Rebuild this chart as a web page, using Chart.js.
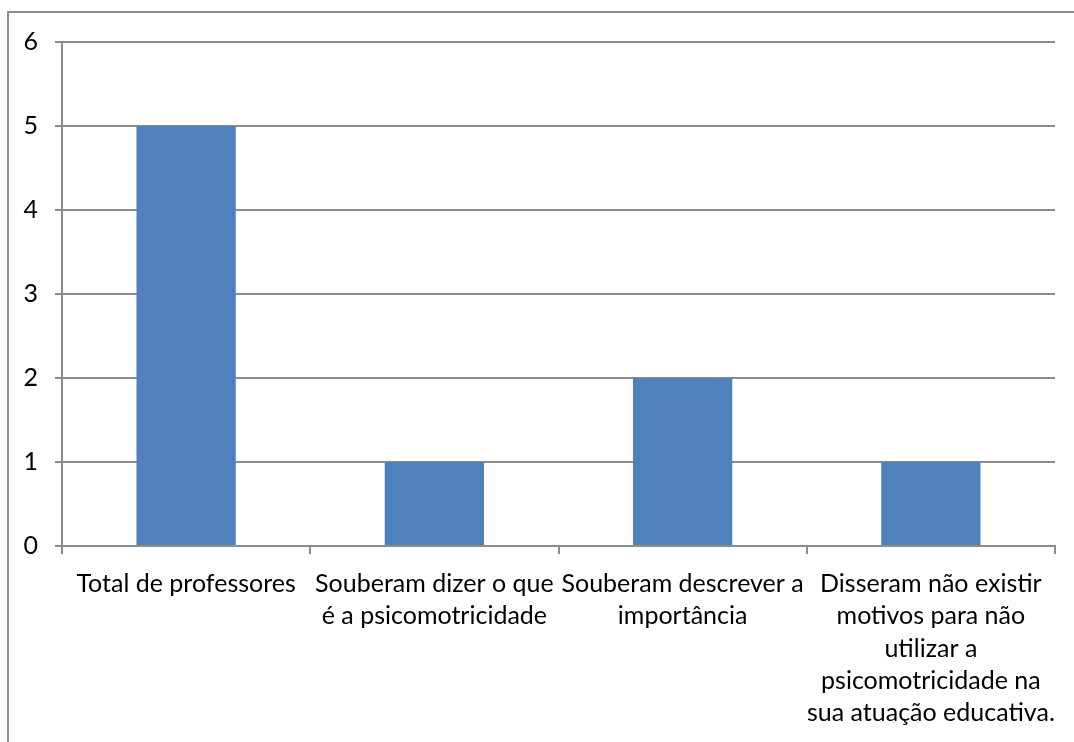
<!DOCTYPE html>
<html>
<head>
<meta charset="utf-8">
<script src="https://cdn.jsdelivr.net/npm/chart.js@4"></script>
<style>
    html, body { margin: 0; padding: 0; background: #fff; }
    #wrap { position: relative; width: 1074px; height: 742px; overflow: hidden; }
    #frame { position: absolute; left: 7px; top: 11px; width: 1100px; height: 800px; border: 2px solid #8c8c8c; box-sizing: border-box; }
    #chart { position: absolute; left: 0; top: 0; }
</style>
</head>
<body>
<div id="wrap">
    <div id="frame"></div>
    <canvas id="chart" width="1074" height="742"></canvas>
</div>
<script>
const categories = [
    ['Total de professores'],
    ['Souberam dizer o que', 'é a psicomotricidade'],
    ['Souberam descrever a', 'importância'],
    ['Disseram não existir', 'motivos para não', 'utilizar a', 'psicomotricidade na', 'sua atuação educativa.']
];
const values = [5, 1, 2, 1];
const yTicks = [0, 1, 2, 3, 4, 5, 6];

const gray = '#8c8c8c';
const font = { family: 'Lato, "Open Sans", sans-serif', size: 25 };

document.addEventListener('DOMContentLoaded', () => {
    new Chart(document.getElementById('chart').getContext('2d'), {
        type: 'bar',
        data: {
            labels: categories,
            datasets: [{
                data: values,
                backgroundColor: '#4f81bd',
                barPercentage: 0.4,
                categoryPercentage: 1
            }]
        },
        options: {
            responsive: false,
            animation: false,
            layout: { padding: { left: 0, top: 42, right: 19, bottom: 0 } },
            plugins: { legend: { display: false }, tooltip: { enabled: false } },
            scales: {
                x: {
                    grid: { display: true, drawOnChartArea: false, color: gray, lineWidth: 2, tickLength: 8, offset: true },
                    border: { display: true, color: gray, width: 2 },
                    ticks: {
                        color: '#000', font: { ...font, lineHeight: 1.29 },
                        maxRotation: 0, autoSkip: false, padding: 14
                    },
                    afterFit: scale => { scale.height = 196; }
                },
                y: {
                    min: 0, max: 6,
                    afterBuildTicks: scale => { scale.ticks = yTicks.map(v => ({ value: v })); },
                    grid: { color: gray, lineWidth: 2, tickLength: 7 },
                    border: { display: true, color: gray, width: 2 },
                    ticks: { color: '#000', font: font, padding: 17 },
                    afterFit: scale => { scale.width = 62; }
                }
            }
        }
    });
});
</script>
</body>
</html>
